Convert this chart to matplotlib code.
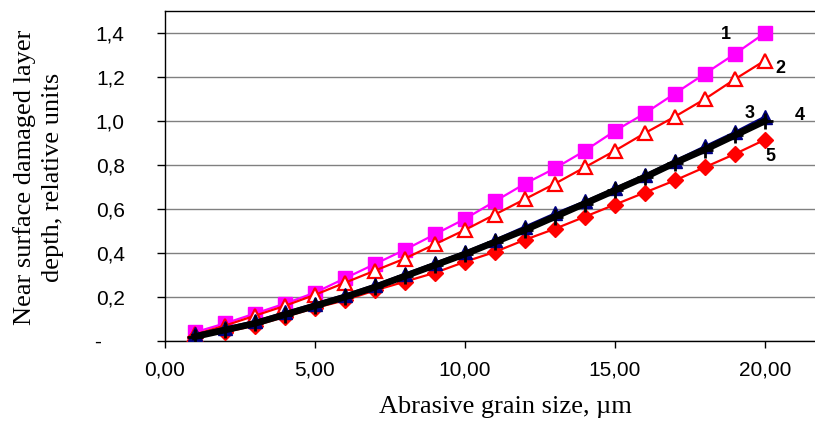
import matplotlib
matplotlib.use("Agg")
import matplotlib.pyplot as plt
from matplotlib.ticker import FixedLocator, FuncFormatter

grain_size = list(range(1, 21))
s1 = [0.04, 0.08, 0.125, 0.17, 0.22, 0.285, 0.35, 0.415, 0.485, 0.555,
      0.635, 0.715, 0.785, 0.865, 0.955, 1.035, 1.125, 1.215, 1.305, 1.40]
s2 = [0.03, 0.07, 0.115, 0.16, 0.21, 0.265, 0.32, 0.375, 0.44, 0.505,
      0.575, 0.645, 0.715, 0.79, 0.865, 0.945, 1.02, 1.10, 1.19, 1.275]
s3 = [0.03, 0.06, 0.09, 0.13, 0.17, 0.21, 0.255, 0.305, 0.355, 0.405,
      0.46, 0.52, 0.58, 0.635, 0.695, 0.755, 0.82, 0.885, 0.95, 1.02]
s4 = [0.02, 0.05, 0.08, 0.12, 0.16, 0.20, 0.245, 0.295, 0.345, 0.395,
      0.45, 0.505, 0.565, 0.625, 0.685, 0.745, 0.81, 0.87, 0.935, 1.00]
s5 = [0.02, 0.04, 0.07, 0.11, 0.15, 0.185, 0.23, 0.27, 0.31, 0.36,
      0.405, 0.46, 0.51, 0.565, 0.62, 0.675, 0.73, 0.79, 0.85, 0.915]

series_labels = ["1", "2", "3", "4", "5"]
label_x = [18.7, 20.5, 19.5, 21.15, 20.2]
label_y = [1.395, 1.24, 1.035, 1.025, 0.84]

x_ticks = [0, 5, 10, 15, 20]
y_ticks = [0, 0.2, 0.4, 0.6, 0.8, 1.0, 1.2, 1.4]

W, H = 815, 424
fig = plt.figure(figsize=(W / 100, H / 100), dpi=100)
ax = fig.add_axes([165 / W, 83 / H, 650 / W, 330 / H])

ax.plot(grain_size, s1, color="#ff00ff", lw=1.6, marker="s", ms=10,
        mfc="#ff00ff", mec="#ff00ff", zorder=3)
ax.plot(grain_size, s2, color="#ff0000", lw=1.6, marker="^", ms=9.5,
        mfc="white", mec="#ff0000", mew=1.6, zorder=4)
ax.plot(grain_size, s5, color="#ff0000", lw=1.6, marker="D", ms=8,
        mfc="#ff0000", mec="#ff0000", zorder=5)
ax.plot(grain_size, s3, color="#000080", lw=1.6, marker="^", ms=10,
        mfc="#000080", mec="#000080", zorder=6)
ax.plot(grain_size, s4, color="black", lw=4.8, marker="+", ms=12,
        mec="black", mew=2, zorder=7)

for t, x, y in zip(series_labels, label_x, label_y):
    ax.text(x, y, t, fontsize=13, fontweight="bold", family="Liberation Sans",
            ha="center", va="center", zorder=10)

ax.set_xlim(0, 21.67)
ax.set_ylim(0, 1.5)
ax.xaxis.set_major_locator(FixedLocator(x_ticks))
ax.yaxis.set_major_locator(FixedLocator(y_ticks))
ax.xaxis.set_major_formatter(FuncFormatter(lambda v, p: f"{v:.2f}".replace(".", ",")))
ax.yaxis.set_major_formatter(FuncFormatter(
    lambda v, p: "-    " if abs(v) < 1e-9 else f"{v:.1f}".replace(".", ",")))

for lab in ax.get_xticklabels() + ax.get_yticklabels():
    lab.set_family("Liberation Sans")
    lab.set_fontsize(15)
ax.tick_params(axis="y", direction="out", length=6, width=1, pad=23)
ax.tick_params(axis="x", direction="out", length=5, width=1, pad=9)

ax.grid(axis="y", color="#808080", lw=1)
ax.set_axisbelow(True)
ax.spines["right"].set_visible(False)
for s in ["left", "bottom", "top"]:
    ax.spines[s].set_color("black")
    ax.spines[s].set_linewidth(1)

fig.text(505 / W, 1 - 413 / H, "Abrasive grain size, µm", family="Liberation Serif",
         fontsize=19, ha="center", va="baseline")
fig.text(38.5 / W, 1 - 177.5 / H, "Near surface damaged layer\ndepth, relative units",
         family="Liberation Serif", fontsize=19, rotation=90, ha="center",
         va="center", multialignment="center", linespacing=1.35)

fig.savefig("out.png", dpi=100)
